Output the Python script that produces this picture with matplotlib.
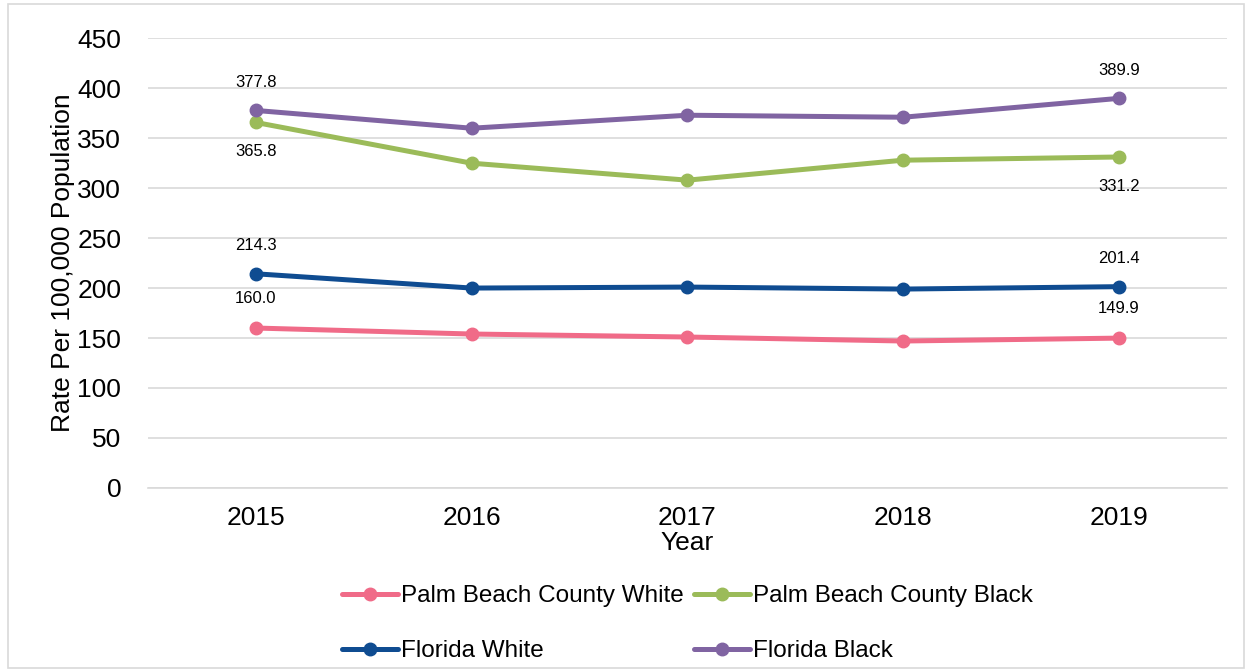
import matplotlib
matplotlib.use("Agg")
from matplotlib import pyplot as plt
from matplotlib.patches import Rectangle

plt.rcParams['font.family'] = ['Liberation Sans Narrow', 'Liberation Sans', 'DejaVu Sans']

years = ["2015", "2016", "2017", "2018", "2019"]
pbc_white = [160.0, 154.0, 151.0, 147.0, 149.9]
pbc_black = [365.8, 325.0, 308.0, 328.0, 331.2]
fl_white = [214.3, 200.0, 201.0, 199.0, 201.4]
fl_black = [377.8, 360.0, 373.0, 371.0, 389.9]

series = [
    ("Palm Beach County White", pbc_white, "#F06B88"),
    ("Palm Beach County Black", pbc_black, "#9BBB59"),
    ("Florida White", fl_white, "#0F4C91"),
    ("Florida Black", fl_black, "#8064A2"),
]

# (series index, point index, offset in points)
labels = [
    (3, 0, 20), (1, 0, -21), (3, 4, 20), (1, 4, -21),
    (2, 0, 20), (2, 4, 20), (0, 0, 21), (0, 4, 21),
]

fig = plt.figure(figsize=(12.52, 6.72), dpi=100)
ax = fig.add_axes([0.118, 0.274, 0.862, 0.669])
fig.patches.append(Rectangle((0.006, 0.006), 0.988, 0.988, transform=fig.transFigure,
                             fill=False, edgecolor="#D9D9D9", linewidth=1.2))

x = list(range(len(years)))
lines = {}
for name, vals, col in series:
    ln, = ax.plot(x, vals, color=col, linewidth=3.6, marker="o", markersize=9,
                  label=name, solid_capstyle="round")
    lines[name] = ln

for si, pi, off in labels:
    v = series[si][1][pi]
    ax.annotate(f"{v:.1f}", (x[pi], v), xytext=(0, off), textcoords="offset points",
                ha="center", va="center", fontsize=12)

ax.set_xlim(-0.5, 4.5)
ax.set_ylim(0, 450)
ax.set_yticks(range(0, 451, 50))
ax.set_xticks(x)
ax.set_xticklabels(years)
ax.tick_params(axis="both", length=0, labelsize=19)
ax.tick_params(axis="y", pad=19)
ax.tick_params(axis="x", pad=13)
ax.grid(axis="y", color="#D9D9D9", linewidth=1.2)
ax.set_axisbelow(True)
for s in ["top", "right", "left"]:
    ax.spines[s].set_visible(False)
ax.spines["bottom"].set_color("#D9D9D9")
ax.spines["bottom"].set_linewidth(1.2)

ax.set_xlabel("Year", fontsize=19, labelpad=1)
ax.set_ylabel("Rate Per 100,000 Population", fontsize=19)
ax.yaxis.set_label_coords(-0.067, 0.5)

# legend fills column-wise, so order entries to read row by row
order = ["Palm Beach County White", "Florida White", "Palm Beach County Black", "Florida Black"]
ax.legend([lines[n] for n in order], order, loc="upper center",
          bbox_to_anchor=(0.5, -0.168), ncol=2, frameon=False,
          fontsize=17.5, handlelength=2.3, handletextpad=0.15, columnspacing=0.4,
          labelspacing=1.35)

fig.savefig("out.png", dpi=100)
